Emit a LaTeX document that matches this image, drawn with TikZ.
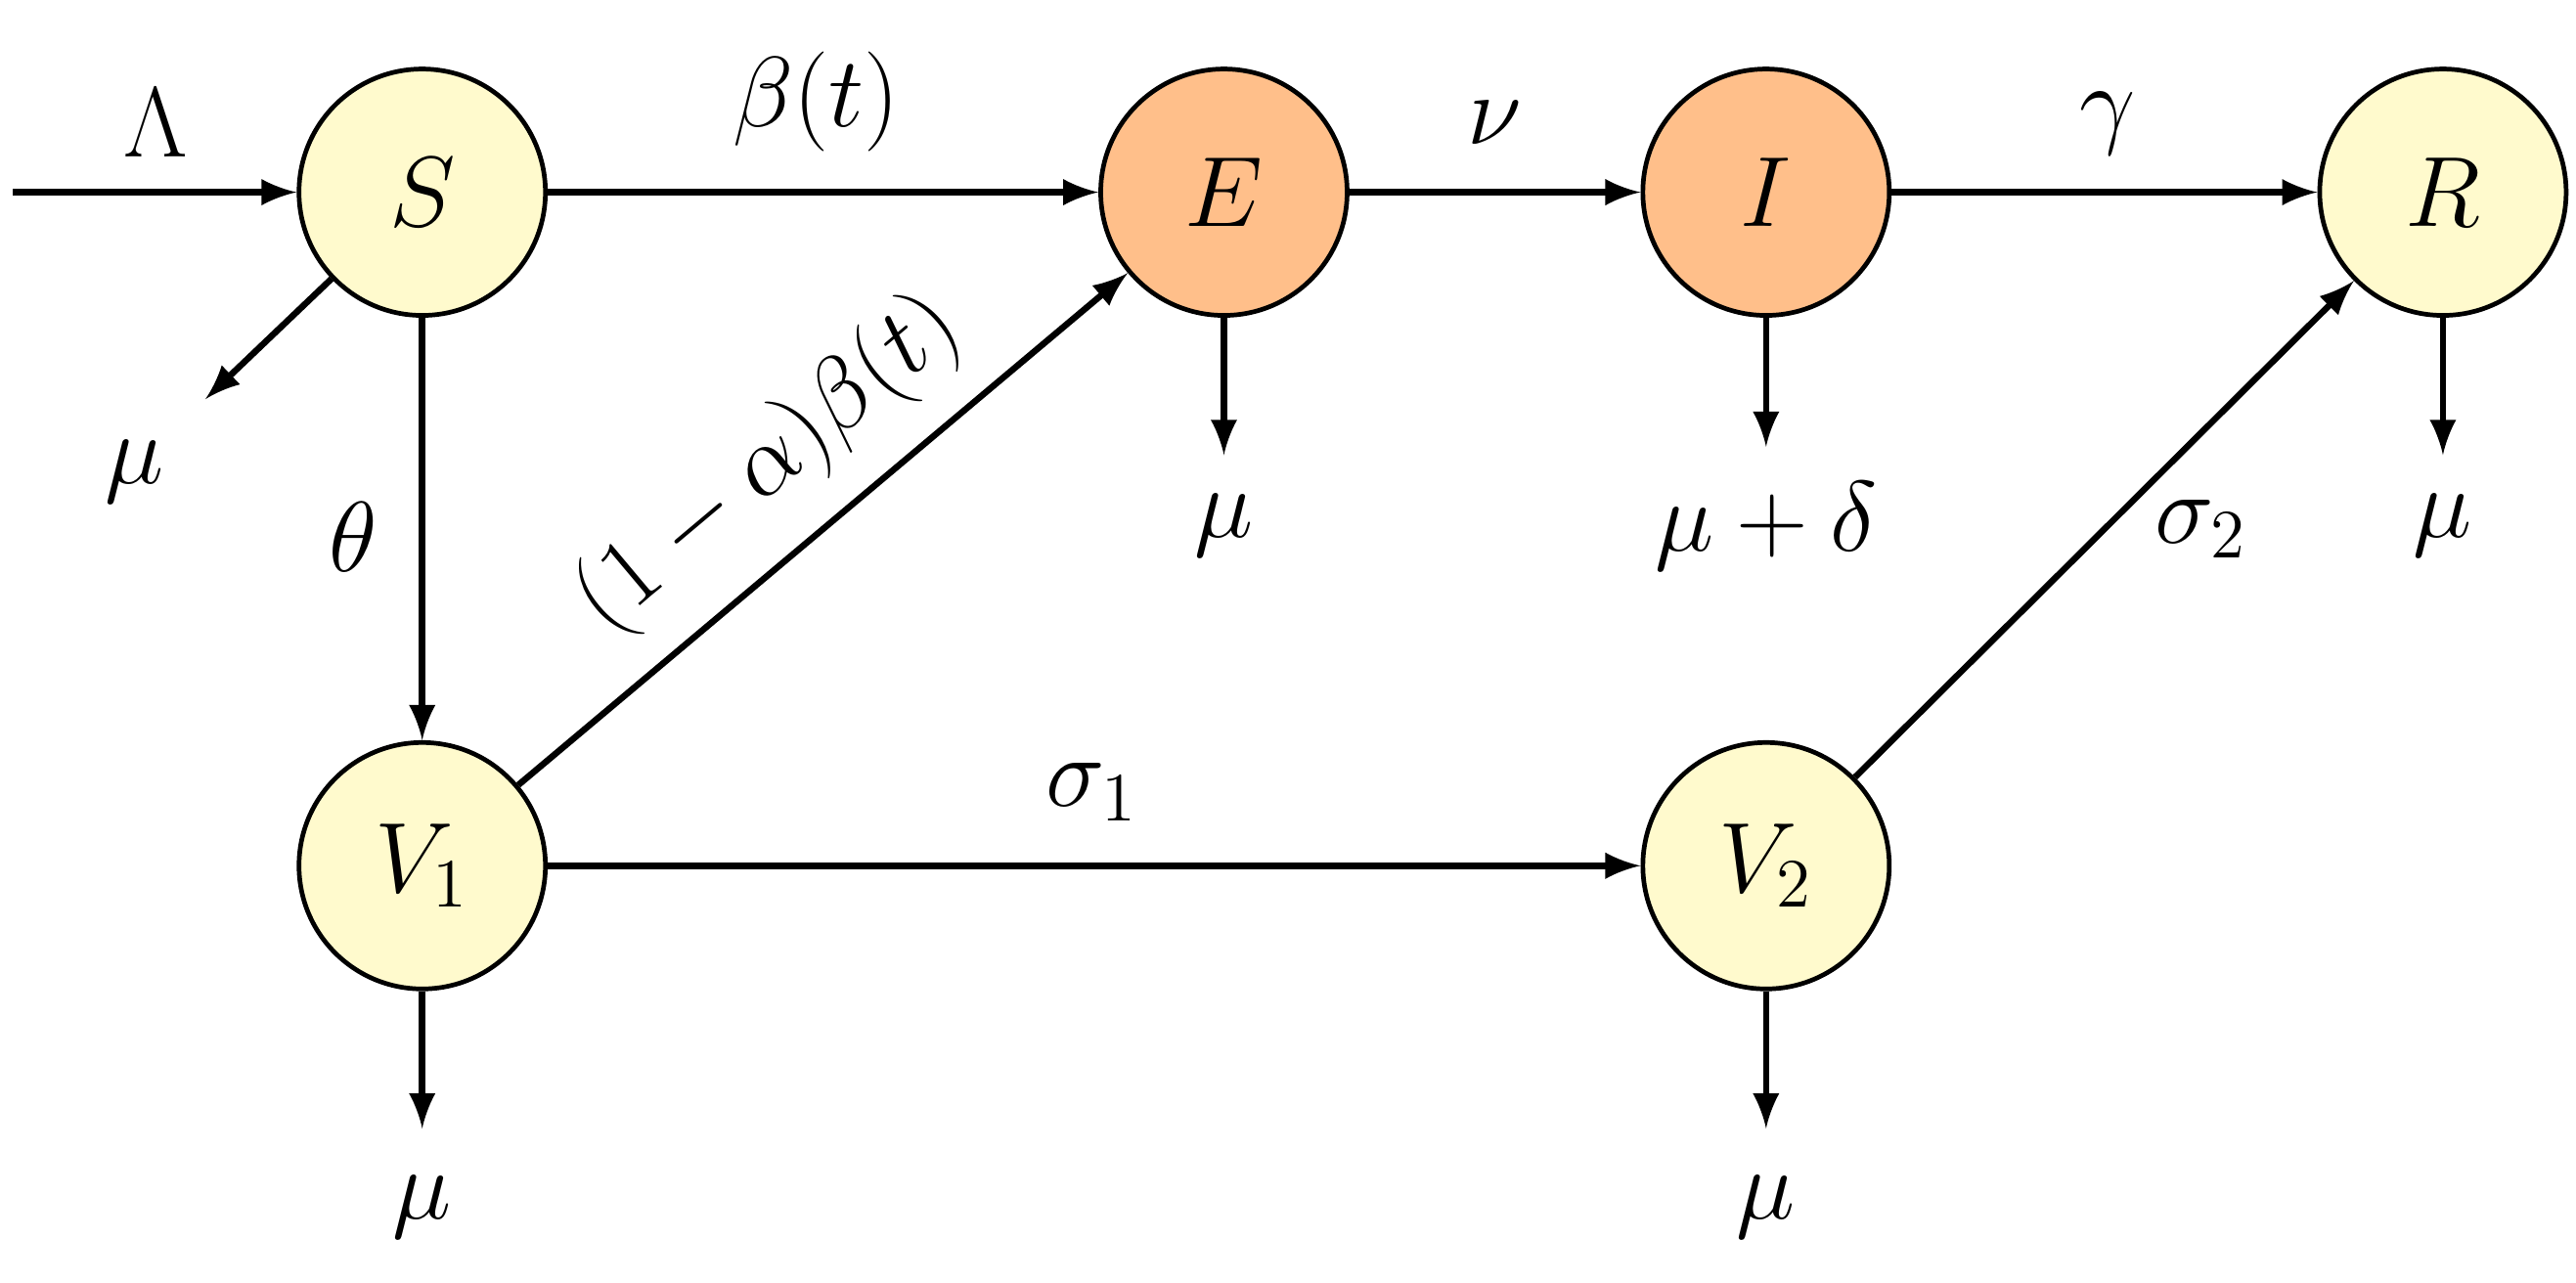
\documentclass[tikz,border=0pt]{standalone}
\usepackage{amsmath, amssymb}
\usepackage[usenames,dvipsnames]{xcolor}
\usetikzlibrary{calc}
\definecolor{cSus}{HTML}{FFFACD}
\definecolor{cInf}{HTML}{FFBF8A}
\begin{document}
\begin{tikzpicture}[x=0.1mm, y=-0.1mm, font=\fontsize{18}{22}\selectfont,
  comp/.style={circle, draw, line width=0.8pt, minimum size=1.5cm, inner sep=0pt},
  flow/.style={-latex, line width=1.1pt}]
\useasboundingbox (0,0) rectangle (1568,781);
\def\cS{cSus}
\def\cI{cInf}
% compartments
\node[comp, fill=\cS] (S) at (257,117) {$S$};
\node[comp, fill=\cI] (E) at (745,117) {$E$};
\node[comp, fill=\cI] (I) at (1075,117) {$I$};
\node[comp, fill=\cS] (R) at (1487,117) {$R$};
\node[comp, fill=\cS] (V1) at (257,527) {$V_1$};
\node[comp, fill=\cS] (V2) at (1075,527) {$V_2$};
% exits
\coordinate (in) at (8,117);
\coordinate (oS) at (125,243);
\coordinate (oE) at (745,277);
\coordinate (oI) at (1075,272);
\coordinate (oR) at (1487,277);
\coordinate (oV1) at (257,687);
\coordinate (oV2) at (1075,687);
% flows
\draw[flow] (in) -- (S);
\draw[flow] (S) -- (E);
\draw[flow] (E) -- (I);
\draw[flow] (I) -- (R);
\draw[flow] (S) -- (V1);
\draw[flow] (V1) -- (V2);
\draw[flow] (V1) -- node[sloped, above=2pt]{$(1-\alpha)\beta(t)$} (E);
\draw[flow] (V2) -- (R);
\draw[flow] (S) -- (oS);
\draw[flow] (E) -- (oE);
\draw[flow] (I) -- (oI);
\draw[flow] (R) -- (oR);
\draw[flow] (V1) -- (oV1);
\draw[flow] (V2) -- (oV2);
% labels
\node (lLam) at (95,75) {$\Lambda$};
\node (lBeta) at (497,62) {$\beta(t)$};
\node (lNu) at (910,75) {$\nu$};
\node (lGam) at (1283,75) {$\gamma$};
\node (lTh) at (215,327) {$\theta$};
\node (lS1) at (665,482) {$\sigma_1$};
\node (lS2) at (1340,322) {$\sigma_2$};
\node (mS) at (82,287) {$\mu$};
\node (mE) at (745,320) {$\mu$};
\node (mI) at (1075,320) {$\mu+\delta$};
\node (mR) at (1487,320) {$\mu$};
\node (mV1) at (257,735) {$\mu$};
\node (mV2) at (1075,735) {$\mu$};
\end{tikzpicture}
\end{document}
